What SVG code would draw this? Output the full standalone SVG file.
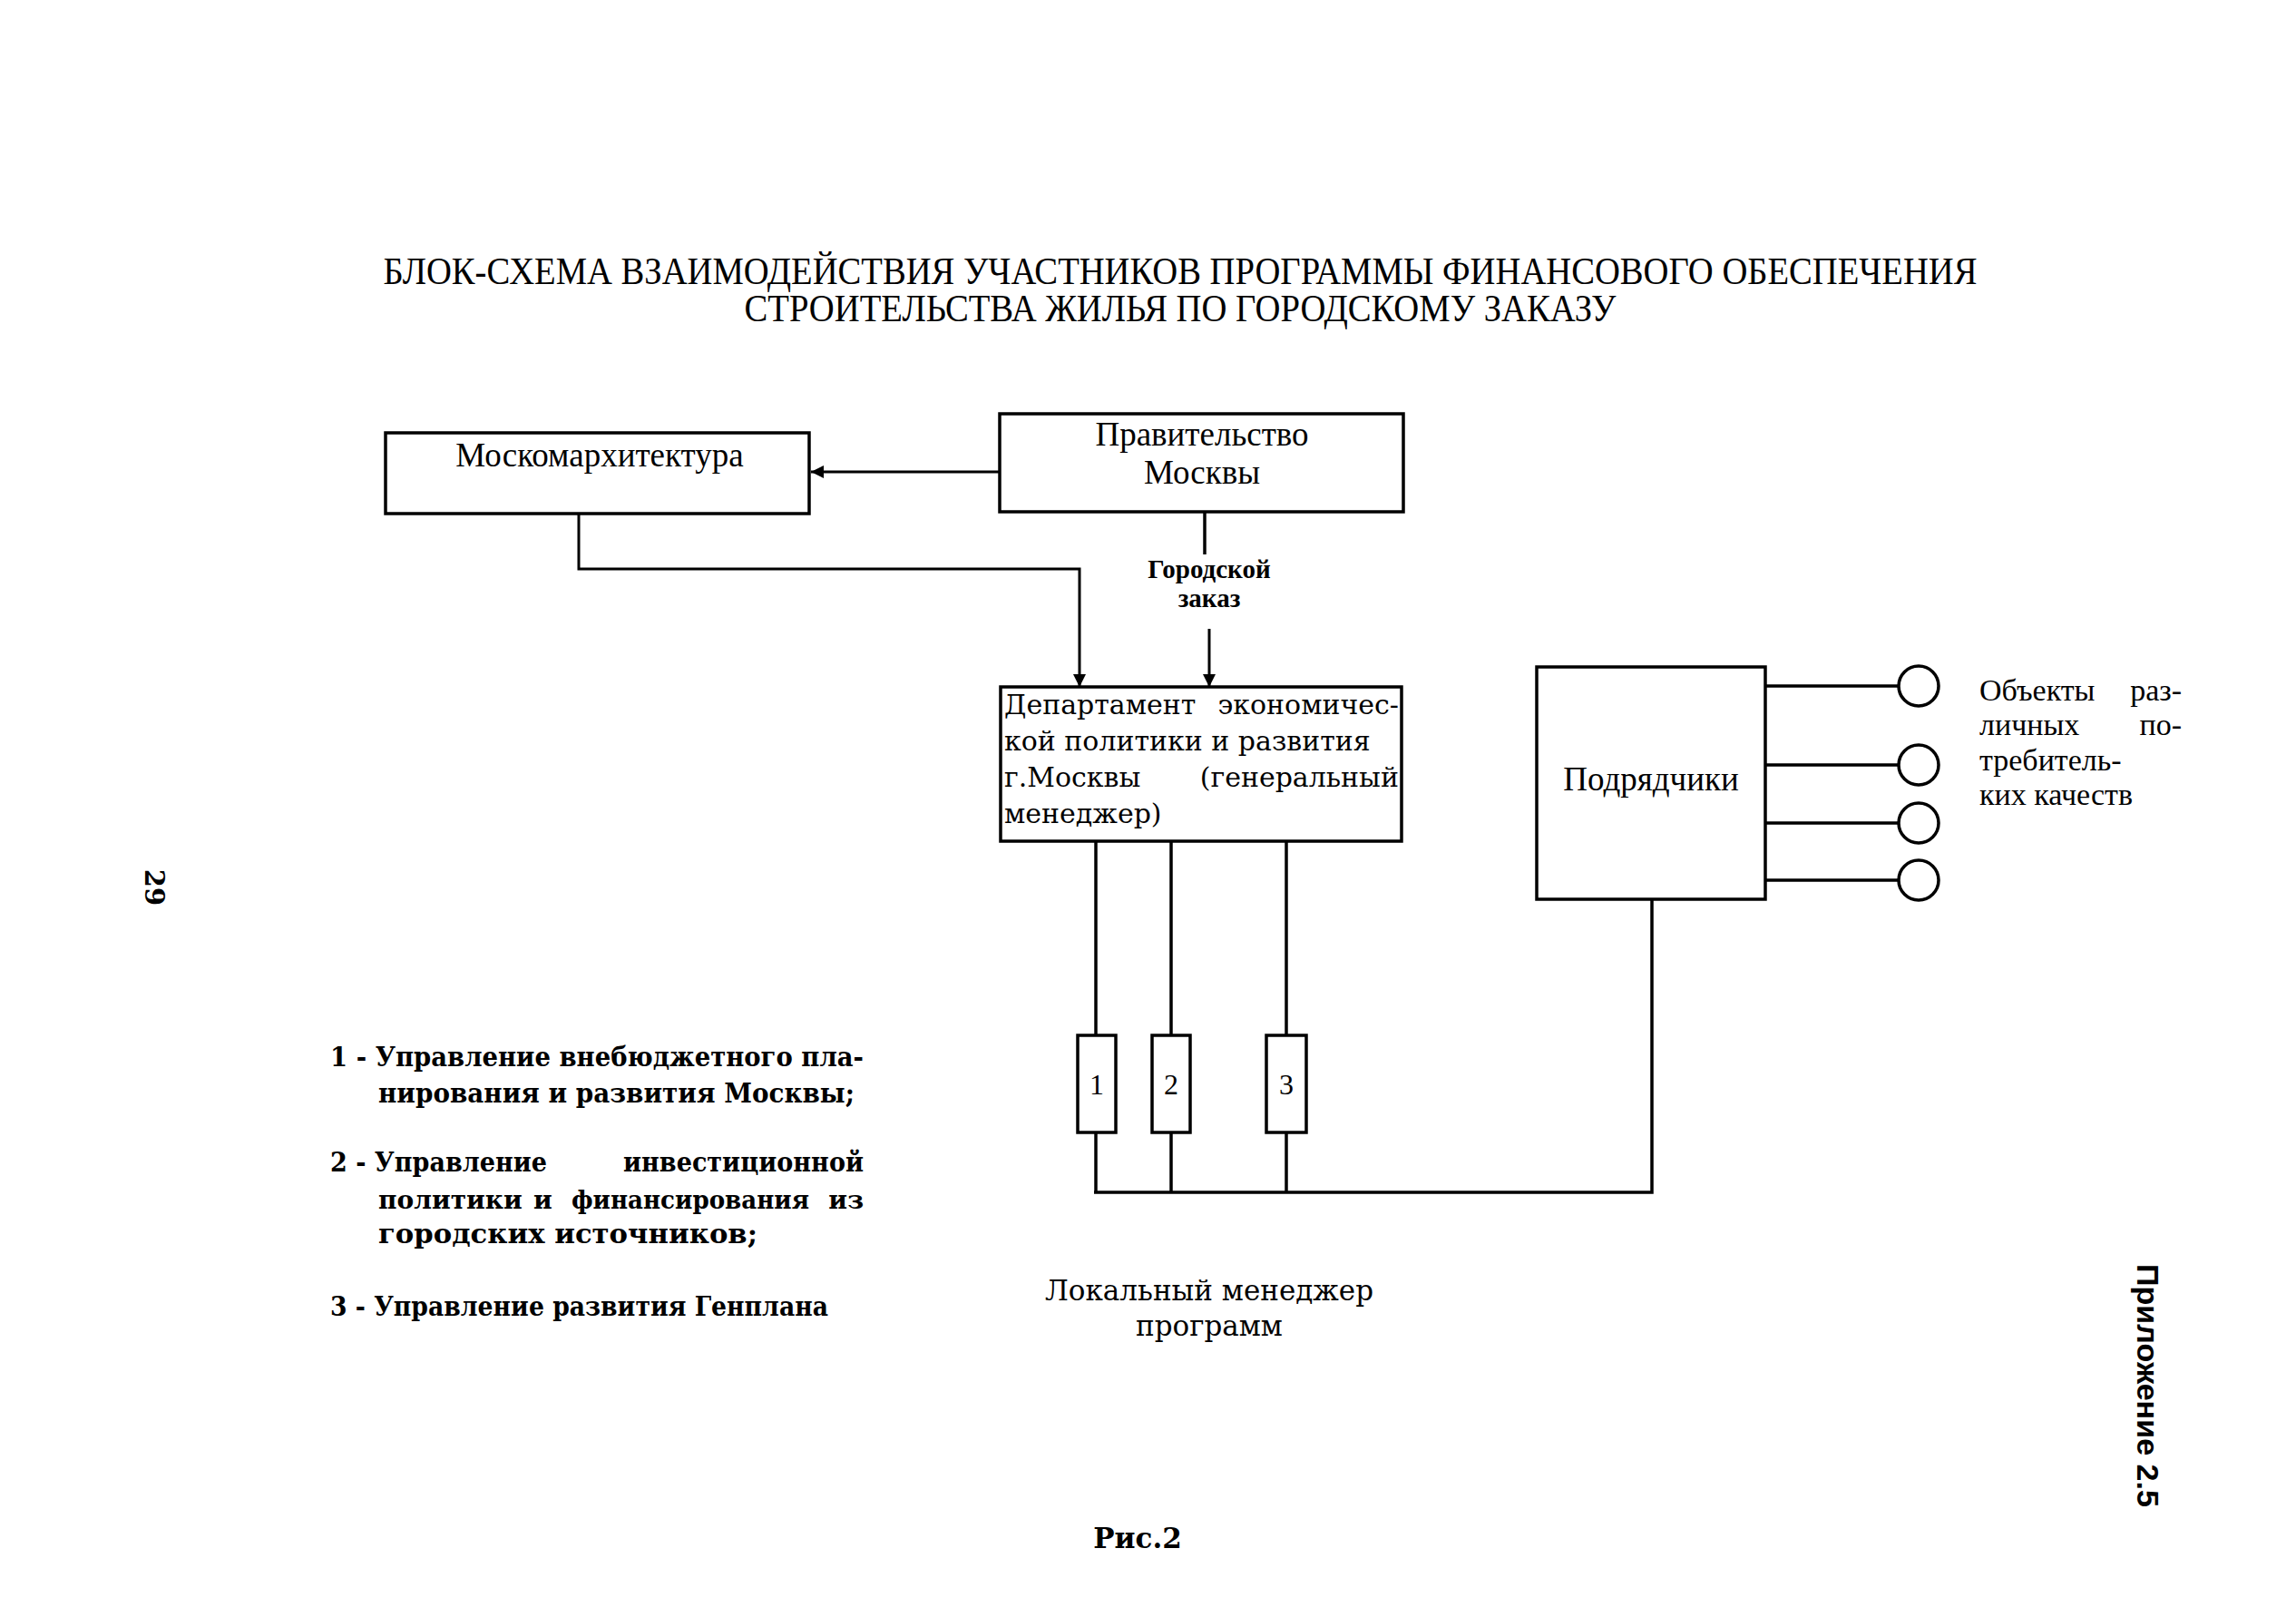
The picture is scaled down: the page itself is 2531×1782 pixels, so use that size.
<svg xmlns="http://www.w3.org/2000/svg" width="2531" height="1782" viewBox="0 0 2531 1782">
<style>
.bg{fill:#fff}
.box{fill:#fff;stroke:#000;stroke-width:3.5}
.ln{fill:none;stroke:#000;stroke-width:3.5}
.thin{fill:none;stroke:#000;stroke-width:3}
.t{font-family:"Liberation Serif","Times New Roman",serif;fill:#000}
.c{font-family:"DejaVu Serif","Liberation Serif",serif;fill:#000}
.b{font-weight:bold}
.s{font-family:"Liberation Sans",Arial,sans-serif;font-weight:bold;fill:#000}
</style>
<defs>
<marker id="ah" viewBox="0 0 10 10" refX="10" refY="5" markerWidth="14" markerHeight="14" markerUnits="userSpaceOnUse" orient="auto">
<path d="M0,0 L10,5 L0,10 z" fill="#000"/>
</marker>
</defs>
<rect class="bg" x="0" y="0" width="2531" height="1782"/>

<g id="title">
<text class="t" x="1301" y="313" font-size="42" text-anchor="middle" textLength="1757" lengthAdjust="spacingAndGlyphs">БЛОК-СХЕМА ВЗАИМОДЕЙСТВИЯ УЧАСТНИКОВ ПРОГРАММЫ ФИНАНСОВОГО ОБЕСПЕЧЕНИЯ</text>
<text class="t" x="1301" y="354" font-size="42" text-anchor="middle" textLength="961" lengthAdjust="spacingAndGlyphs">СТРОИТЕЛЬСТВА ЖИЛЬЯ ПО ГОРОДСКОМУ ЗАКАЗУ</text>
</g>

<g id="connectors">
<line class="thin" x1="1102" y1="520" x2="894" y2="520" marker-end="url(#ah)"/>
<line class="ln" x1="1328" y1="564" x2="1328" y2="611"/>
<line class="thin" x1="1333" y1="693" x2="1333" y2="757" marker-end="url(#ah)"/>
<polyline class="thin" points="638,566 638,627 1190,627 1190,757" marker-end="url(#ah)"/>
<line class="ln" x1="1208" y1="927" x2="1208" y2="1141"/>
<line class="ln" x1="1291" y1="927" x2="1291" y2="1141"/>
<line class="ln" x1="1418" y1="927" x2="1418" y2="1141"/>
<line class="ln" x1="1208" y1="1248" x2="1208" y2="1314"/>
<line class="ln" x1="1291" y1="1248" x2="1291" y2="1314"/>
<line class="ln" x1="1418" y1="1248" x2="1418" y2="1314"/>
<polyline class="ln" points="1206,1314 1821,1314 1821,991"/>
<line class="ln" x1="1946" y1="756" x2="2093" y2="756"/>
<line class="ln" x1="1946" y1="843" x2="2093" y2="843"/>
<line class="ln" x1="1946" y1="907" x2="2093" y2="907"/>
<line class="ln" x1="1946" y1="970" x2="2093" y2="970"/>
</g>

<g id="moskomarkhitektura">
<rect class="box" x="425" y="477" width="467" height="89"/>
<text class="t" x="661" y="514" font-size="37" text-anchor="middle">Москомархитектура</text>
</g>

<g id="pravitelstvo">
<rect class="box" x="1102" y="456" width="445" height="108"/>
<text class="t" x="1325" y="491" font-size="37" text-anchor="middle">Правительство</text>
<text class="t" x="1325" y="533" font-size="37" text-anchor="middle">Москвы</text>
</g>

<g id="gorodskoy-zakaz">
<text class="t b" x="1333" y="637" font-size="29" text-anchor="middle">Городской</text>
<text class="t b" x="1333" y="669" font-size="29" text-anchor="middle">заказ</text>
</g>

<g id="departament">
<rect class="box" x="1103" y="757" width="442" height="170"/>
<text class="c" x="1107" y="787" font-size="30">Департамент</text>
<text class="c" x="1542" y="787" font-size="30" text-anchor="end">экономичес-</text>
<text class="c" x="1107" y="827" font-size="30">кой политики и развития</text>
<text class="c" x="1107" y="867" font-size="30">г.Москвы</text>
<text class="c" x="1542" y="867" font-size="30" text-anchor="end">(генеральный</text>
<text class="c" x="1107" y="907" font-size="30">менеджер)</text>
</g>

<g id="podryadchiki">
<rect class="box" x="1694" y="735" width="252" height="256"/>
<text class="t" x="1820" y="871" font-size="37" text-anchor="middle">Подрядчики</text>
</g>

<g id="objects">
<circle class="ln" cx="2115" cy="756" r="22"/>
<circle class="ln" cx="2115" cy="843" r="22"/>
<circle class="ln" cx="2115" cy="907" r="22"/>
<circle class="ln" cx="2115" cy="970" r="22"/>
<text class="t" x="2182" y="772" font-size="34">Объекты</text>
<text class="t" x="2405" y="772" font-size="34" text-anchor="end">раз-</text>
<text class="t" x="2182" y="810" font-size="34">личных</text>
<text class="t" x="2405" y="810" font-size="34" text-anchor="end">по-</text>
<text class="t" x="2182" y="849" font-size="34">требитель-</text>
<text class="t" x="2182" y="887" font-size="34">ких качеств</text>
</g>

<g id="unit1">
<rect class="box" x="1188" y="1141" width="42" height="107"/>
<text class="t" x="1209" y="1206" font-size="32" text-anchor="middle">1</text>
</g>
<g id="unit2">
<rect class="box" x="1270" y="1141" width="42" height="107"/>
<text class="t" x="1291" y="1206" font-size="32" text-anchor="middle">2</text>
</g>
<g id="unit3">
<rect class="box" x="1396" y="1141" width="44" height="107"/>
<text class="t" x="1418" y="1206" font-size="32" text-anchor="middle">3</text>
</g>

<g id="local-manager">
<text class="c" x="1333" y="1433" font-size="31" text-anchor="middle">Локальный менеджер</text>
<text class="c" x="1333" y="1472" font-size="31" text-anchor="middle">программ</text>
</g>

<g id="legend">
<text class="c b" x="364" y="1175" font-size="29" textLength="588" lengthAdjust="spacingAndGlyphs">1 - Управление внебюджетного пла-</text>
<text class="c b" x="417" y="1215" font-size="29" textLength="525" lengthAdjust="spacingAndGlyphs">нирования и развития Москвы;</text>
<text class="c b" x="364" y="1291" font-size="29" textLength="239" lengthAdjust="spacingAndGlyphs">2 - Управление</text>
<text class="c b" x="687" y="1291" font-size="29" textLength="265" lengthAdjust="spacingAndGlyphs">инвестиционной</text>
<text class="c b" x="417" y="1332" font-size="28">политики</text>
<text class="c b" x="588" y="1332" font-size="28">и</text>
<text class="c b" x="630" y="1332" font-size="28" textLength="262" lengthAdjust="spacingAndGlyphs">финансирования</text>
<text class="c b" x="952" y="1332" font-size="28" text-anchor="end">из</text>
<text class="c b" x="417" y="1370" font-size="29" textLength="418" lengthAdjust="spacingAndGlyphs">городских источников;</text>
<text class="c b" x="364" y="1450" font-size="29" textLength="549" lengthAdjust="spacingAndGlyphs">3 - Управление развития Генплана</text>
</g>

<g id="caption">
<text class="c b" x="1254" y="1706" font-size="31" text-anchor="middle">Рис.2</text>
</g>

<g id="page-number">
<text class="c b" x="0" y="0" font-size="29" text-anchor="middle" transform="translate(160,978) rotate(90)">29</text>
</g>
<g id="appendix">
<text class="s" x="0" y="0" font-size="33" text-anchor="middle" textLength="268" lengthAdjust="spacingAndGlyphs" transform="translate(2356,1527) rotate(90)">Приложение 2.5</text>
</g>
</svg>
